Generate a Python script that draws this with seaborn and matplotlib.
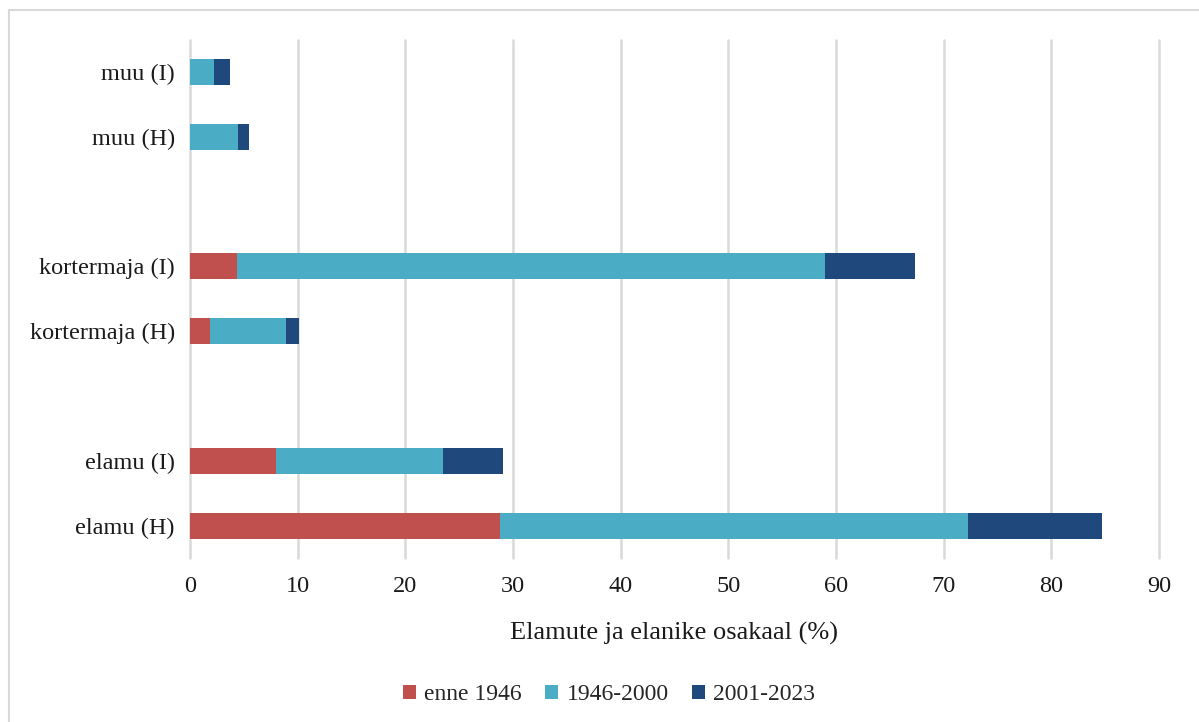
import matplotlib
matplotlib.use("Agg")
import matplotlib.pyplot as plt
from matplotlib.lines import Line2D
from matplotlib.patches import Patch
import numpy as np
import pandas as pd
import seaborn as sns

# Building categories, top to bottom (blank slots separate the groups)
categories = ["muu (I)", "muu (H)", " ", "kortermaja (I)", "kortermaja (H)", "  ",
              "elamu (I)", "elamu (H)"]
data_categories = ["muu (I)", "muu (H)", "kortermaja (I)", "kortermaja (H)",
                   "elamu (I)", "elamu (H)"]

# Share (%) by construction period
enne_1946 = [0.0, 0.0, 4.4, 1.9, 8.0, 28.8]
p1946_2000 = [2.2, 4.5, 54.6, 7.0, 15.5, 43.5]
p2001_2023 = [1.5, 1.0, 8.3, 1.2, 5.6, 12.4]

series_labels = ["enne 1946", "1946-2000", "2001-2023"]
colors = ["#C0504D", "#4BACC6", "#1F497D"]

x_ticks = [0, 10, 20, 30, 40, 50, 60, 70, 80, 90]
x_label = "Elamute ja elanike osakaal (%)"

df = pd.DataFrame({
    "kategooria": data_categories,
    "s1": enne_1946,
    "s2": p1946_2000,
    "s3": p2001_2023,
})
df["c1"] = df["s1"]
df["c2"] = df["s1"] + df["s2"]
df["c3"] = df["c2"] + df["s3"]

sns.set_theme(style="white")
plt.rcParams["font.family"] = ["Liberation Serif", "DejaVu Serif"]

fig = plt.figure(figsize=(11.99, 7.22), dpi=100)
ax = fig.add_axes([0.1585, 0.2271, 0.9666 - 0.1585, 0.9452 - 0.2271])

# Stacked bars: draw cumulative totals from the outermost segment inwards
for col, color in zip(["c3", "c2", "c1"], colors[::-1]):
    sns.barplot(data=df, x=col, y="kategooria", order=categories, orient="h",
                color=color, width=0.4, saturation=1, ax=ax, linewidth=0,
                zorder=3)

ax.set_xlim(0, 90)
ax.set_ylim(len(categories) - 0.5, -0.5)
ax.set_xticks(x_ticks)
ax.set_xticklabels([str(t) for t in x_ticks])
ax.xaxis.grid(True, color="#D9D9D9", linewidth=1.8, zorder=0)
for gl in ax.get_xgridlines():
    gl.set_clip_on(False)
ax.yaxis.grid(False)
ax.set_axisbelow(True)
for s in ax.spines.values():
    s.set_visible(False)
ax.tick_params(axis="both", length=0, labelsize=17.5, colors="#1a1a1a")
ax.tick_params(axis="x", pad=13)
ax.tick_params(axis="y", pad=11)
ax.set_ylabel("")
ax.set_xlabel(x_label, fontsize=19, color="#1a1a1a", labelpad=18)

handles = [Patch(facecolor=c, edgecolor="none") for c in colors]
fig.legend(handles, series_labels, loc="center", bbox_to_anchor=(0.508, 0.038),
           ncol=3, frameon=False, fontsize=17, handlelength=0.55,
           handleheight=0.55, handletextpad=0.35, columnspacing=1.0)

# Light frame along the top and left edges of the figure
fig.add_artist(Line2D([0.0075, 1.0], [0.986, 0.986], transform=fig.transFigure,
                      color="#D9D9D9", linewidth=1.5))
fig.add_artist(Line2D([0.0075, 0.0075], [0.0, 0.986], transform=fig.transFigure,
                      color="#D9D9D9", linewidth=1.5))

fig.savefig("out.png", dpi=100, facecolor="white")
